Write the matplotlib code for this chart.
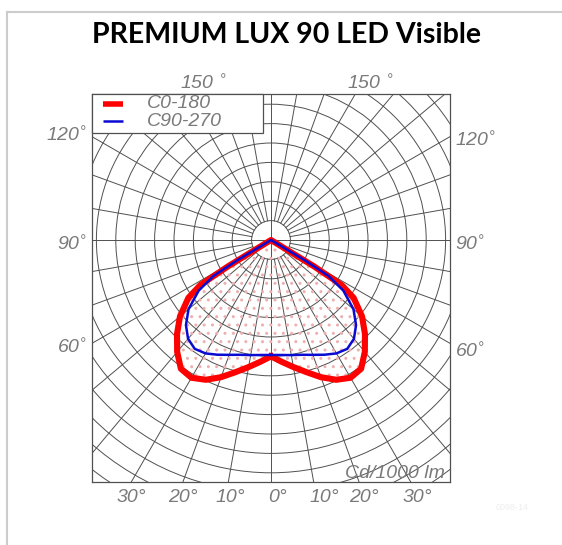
import numpy as np
import matplotlib
matplotlib.use("Agg")
import matplotlib.pyplot as plt
from matplotlib.patches import Circle, Rectangle
from matplotlib.lines import Line2D
from matplotlib import font_manager

# Luminous intensity (cd/1000 lm) vs. gamma angle (deg), symmetric halves
GAMMA_C0 = [0, 5, 10, 15, 20, 25, 30, 35, 40, 45, 50, 55, 57.5, 58.5, 59.5]
INT_C0 = [120, 126, 133, 141, 150.5, 159, 164, 162, 150.5, 137, 122.5, 104, 86.5, 52, 0]

GAMMA_C90 = [0, 5, 10, 15, 20, 25, 30, 35, 40, 45, 50, 55, 58, 59, 59.5]
INT_C90 = [118.5, 119, 120.5, 122.5, 126, 130.5, 135, 137, 133, 124, 111, 91, 70, 41, 0]

SERIES = ["C0-180", "C90-270"]
COLORS = ["#ff0000", "#0a0ad2"]

RING_STEP = 20
SIDE_ANGLES = [150, 120, 90, 60]
BOTTOM_ANGLES = [30, 20, 10, 0, 10, 20, 30]

W, H = 562, 545
GRID = "#505050"
LABEL = "#7a7a7a"

installed = {f.name for f in font_manager.fontManager.ttflist}
narrow = [f for f in ["Liberation Sans Narrow", "Liberation Sans", "DejaVu Sans"] if f in installed]
plt.rcParams["font.family"] = narrow
LBL_SIZE = 14


def fx(x):
    return x / W


def fy(y):
    return 1 - y / H


def closed_curve(gammas, vals):
    g = np.radians(np.array(gammas, dtype=float))
    r = np.array(vals, dtype=float)
    # right half then mirrored left half
    xr, yr = r * np.sin(g), -r * np.cos(g)
    x = np.concatenate([xr, -xr[::-1]])
    y = np.concatenate([yr, yr[::-1]])
    return x, y


fig = plt.figure(figsize=(W / 100, H / 100), dpi=100)
ax = fig.add_axes([fx(92), fy(482), 358 / W, 388 / H])
scale = 19.4 / RING_STEP  # px per unit
ax.set_xlim(-179 / scale, 179 / scale)
ax.set_ylim(-242 / scale, 146 / scale)
ax.set_xticks([])
ax.set_yticks([])
for s in ax.spines.values():
    s.set_color(GRID)
    s.set_linewidth(0.9)

# polar grid
for k in range(1, 17):
    ax.add_patch(Circle((0, 0), k * RING_STEP, fill=False, ec=GRID, lw=0.7, zorder=1))
for a in range(0, 360, 10):
    t = np.radians(a)
    r0 = 0 if a % 90 == 0 else RING_STEP
    ax.plot([r0 * np.sin(t), 500 * np.sin(t)], [-r0 * np.cos(t), -500 * np.cos(t)],
            color=GRID, lw=0.7, zorder=1)

# curves
x0, y0 = closed_curve(GAMMA_C0, INT_C0)
x90, y90 = closed_curve(GAMMA_C90, INT_C90)
ax.fill(x0, y0, facecolor="none", edgecolor="#eeb0b0", linewidth=0, hatch="..", zorder=2)
ax.plot(x0, y0, color=COLORS[0], lw=4.4, solid_joinstyle="round", zorder=3)
ax.plot(x90, y90, color=COLORS[1], lw=1.8, solid_joinstyle="round", zorder=4)

# legend box
leg_y = (482 - 133) / 388
ax.add_patch(Rectangle((0, leg_y), (263 - 92) / 358, 1 - leg_y, transform=ax.transAxes,
                       facecolor="white", edgecolor=GRID, lw=0.9, zorder=5, clip_on=False))
for i, (name, lw, yy) in enumerate(zip(SERIES, [4.0, 1.8], [104, 121])):
    fig.add_artist(Line2D([fx(103), fx(123)], [fy(yy), fy(yy)], color=COLORS[i], lw=lw,
                          solid_capstyle="butt", zorder=6))
    fig.text(fx(147), fy(yy), name, fontsize=LBL_SIZE, style="italic", color=LABEL,
             va="center", ha="left", zorder=6)

# angle labels
deg = "$^{\\circ}$"
fig.text(fx(180), fy(89), "150 " + deg, fontsize=LBL_SIZE, style="italic", color=LABEL, va="baseline")
fig.text(fx(347), fy(89), "150 " + deg, fontsize=LBL_SIZE, style="italic", color=LABEL, va="baseline")
for ang, yl, yr in zip(SIDE_ANGLES[1:], [141, 250, 353], [146, 250, 357]):
    fig.text(fx(87), fy(yl), str(ang) + deg, fontsize=LBL_SIZE, style="italic", color=LABEL,
             va="baseline", ha="right")
    fig.text(fx(455), fy(yr), str(ang) + deg, fontsize=LBL_SIZE, style="italic", color=LABEL,
             va="baseline")
for ang, xc in zip(BOTTOM_ANGLES, [131, 183, 230, 277, 324, 364, 417]):
    fig.text(fx(xc), fy(502), f"{ang}°", fontsize=LBL_SIZE, style="italic", color=LABEL,
             ha="center", va="baseline")
fig.text(fx(445), fy(478), "Cd/1000 lm", fontsize=LBL_SIZE, style="italic", color=LABEL,
         va="baseline", ha="right")

# title and outer frame
fig.text(fx(287), fy(35), "PREMIUM LUX 90 LED Visible", fontsize=20.5, weight="bold",
         family=["Lato", "DejaVu Sans"], ha="center", va="center")
fig.add_artist(Line2D([fx(7), fx(7)], [fy(12), 0], color="#cccccc", lw=1.5))
fig.add_artist(Line2D([fx(7), 1], [fy(12), fy(12)], color="#cccccc", lw=1.5))
fig.text(fx(512), fy(507), "0098-14", fontsize=6.5, color="#eeeeee", ha="center", va="center")

fig.savefig("out.png", dpi=100)
